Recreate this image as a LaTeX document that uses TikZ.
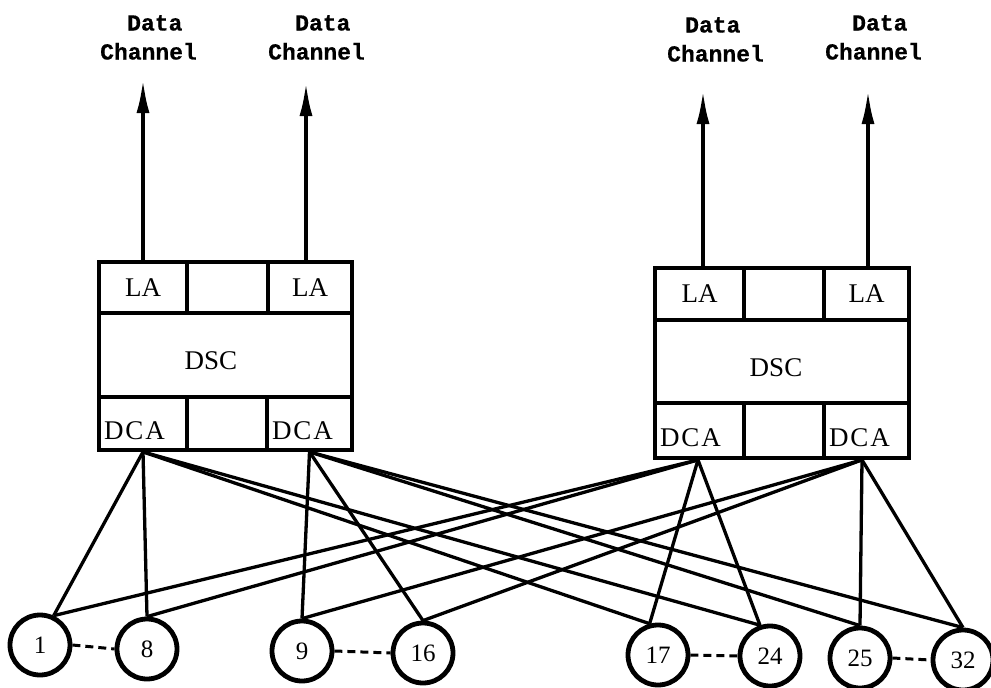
\documentclass[tikz,border=0pt]{standalone}
\usepackage{fontspec}
\setmainfont{Liberation Serif}
\newfontfamily\twfont{Liberation Mono}[FakeBold=0.6]
\newfontfamily\widefont{Liberation Serif}[LetterSpace=7]
\usetikzlibrary{arrows.meta}
\begin{document}
\begin{tikzpicture}[x=1pt,y=-1pt,
  frame/.style={draw, line width=3.8pt, rectangle, inner sep=0pt},
  cell/.style={frame, font=\fontsize{27}{30}\selectfont},
  dcacell/.style={cell, font=\widefont\fontsize{27}{30}\selectfont, inner xsep=5pt, align=left, text height=32pt, text depth=0pt},
  bigtext/.style={inner sep=0pt, font=\fontsize{27}{30}\selectfont},
  chan/.style={inner sep=0pt, anchor=north west, align=left, font=\twfont\bfseries\fontsize{23}{29}\selectfont},
  up/.style={line width=3.8pt, -{Latex[length=34pt,width=13pt]}},
  term/.style={draw, circle, line width=4.8pt, minimum size=60pt, inner sep=0pt, font=\fontsize{25}{30}\selectfont},
  wire/.style={line width=3.3pt},
  dots/.style={line width=3pt, dash pattern=on 8pt off 5pt}
]
\useasboundingbox (0,0) rectangle (991,688);
% ---------- left controller ----------
\node[frame, minimum width=253pt, minimum height=188pt] (lbox) at (225.5,356) {};
\node[cell, minimum width=88pt, minimum height=51pt] (lla1) at (143,287.5) {LA};
\node[cell, minimum width=81pt, minimum height=51pt] (lmid1) at (227.5,287.5) {};
\node[cell, minimum width=84pt, minimum height=51pt] (lla2) at (310,287.5) {LA};
\node[bigtext] (ldsc) at (211,361) {DSC};
\node[dcacell, text width=78pt, minimum width=88pt, minimum height=53pt] (ldca1) at (143,423.5) {DCA};
\node[cell, minimum width=80pt, minimum height=53pt] (lmid2) at (227,423.5) {};
\node[dcacell, text width=75pt, minimum width=85pt, minimum height=53pt] (ldca2) at (309.5,423.5) {DCA};
% ---------- right controller ----------
\node[frame, minimum width=254pt, minimum height=190pt] (rbox) at (782,363) {};
\node[cell, minimum width=89pt, minimum height=52pt] (rla1) at (699.5,294) {LA};
\node[cell, minimum width=80pt, minimum height=52pt] (rmid1) at (784,294) {};
\node[cell, minimum width=85pt, minimum height=52pt] (rla2) at (866.5,294) {LA};
\node[bigtext] (rdsc) at (776,368) {DSC};
\node[dcacell, text width=79pt, minimum width=89pt, minimum height=55pt] (rdca1) at (699.5,430.5) {DCA};
\node[cell, minimum width=80pt, minimum height=55pt] (rmid2) at (784,430.5) {};
\node[dcacell, text width=75pt, minimum width=85pt, minimum height=55pt] (rdca2) at (866.5,430.5) {DCA};
% ---------- data channel labels ----------
\node[chan] (d1) at (100,15) {\hspace*{27pt}Data\\Channel};
\node[chan] (d2) at (268,15) {\hspace*{27pt}Data\\Channel};
\node[chan] (d3) at (667,17) {\hspace*{18pt}Data\\Channel};
\node[chan] (d4) at (825,15) {\hspace*{27pt}Data\\Channel};
\coordinate (t1) at (143,79);
\coordinate (t2) at (306,82);
\coordinate (t3) at (703,90);
\coordinate (t4) at (868,90);
\draw[up] (lla1.north -| t1) -- (t1);
\draw[up] (lla2.north -| t2) -- (t2);
\draw[up] (rla1.north -| t3) -- (t3);
\draw[up] (rla2.north -| t4) -- (t4);
% ---------- devices ----------
\node[term] (c1) at (40,645) {1};
\node[term] (c8) at (147,649) {8};
\node[term] (c9) at (302,651) {9};
\node[term] (c16) at (423,653) {16};
\node[term] (c17) at (658,655) {17};
\node[term] (c24) at (770,656) {24};
\node[term] (c25) at (860,658) {25};
\node[term] (c32) at (963,660) {32};
\draw[dots] (c1.east) -- (c8.west);
\draw[dots] (c9.east) -- (c16.west);
\draw[dots] (c17.east) -- (c24.west);
\draw[dots] (c25.east) -- (c32.west);
% ---------- connections ----------
\coordinate (ls1) at (ldca1.south);
\coordinate (ls2) at (ldca2.south);
\coordinate (rs1) at ([xshift=-1.5pt]rdca1.south);
\coordinate (rs2) at ([xshift=-4.5pt]rdca2.south);
\draw[wire] (ls1) -- (c1.65);
\draw[wire] (ls1) -- (c8.north);
\draw[wire] (ls1) -- (c17.105);
\draw[wire] (ls1) -- (c24.108);
\draw[wire] (ls2) -- (c9.north);
\draw[wire] (ls2) -- (c16.north);
\draw[wire] (ls2) -- (c25.north);
\draw[wire] (ls2) -- (c32.north);
\draw[wire] (rs1) -- (c1.65);
\draw[wire] (rs1) -- (c8.north);
\draw[wire] (rs1) -- (c17.105);
\draw[wire] (rs1) -- (c24.108);
\draw[wire] (rs2) -- (c9.north);
\draw[wire] (rs2) -- (c16.north);
\draw[wire] (rs2) -- (c25.north);
\draw[wire] (rs2) -- (c32.north);
\end{tikzpicture}
\end{document}
